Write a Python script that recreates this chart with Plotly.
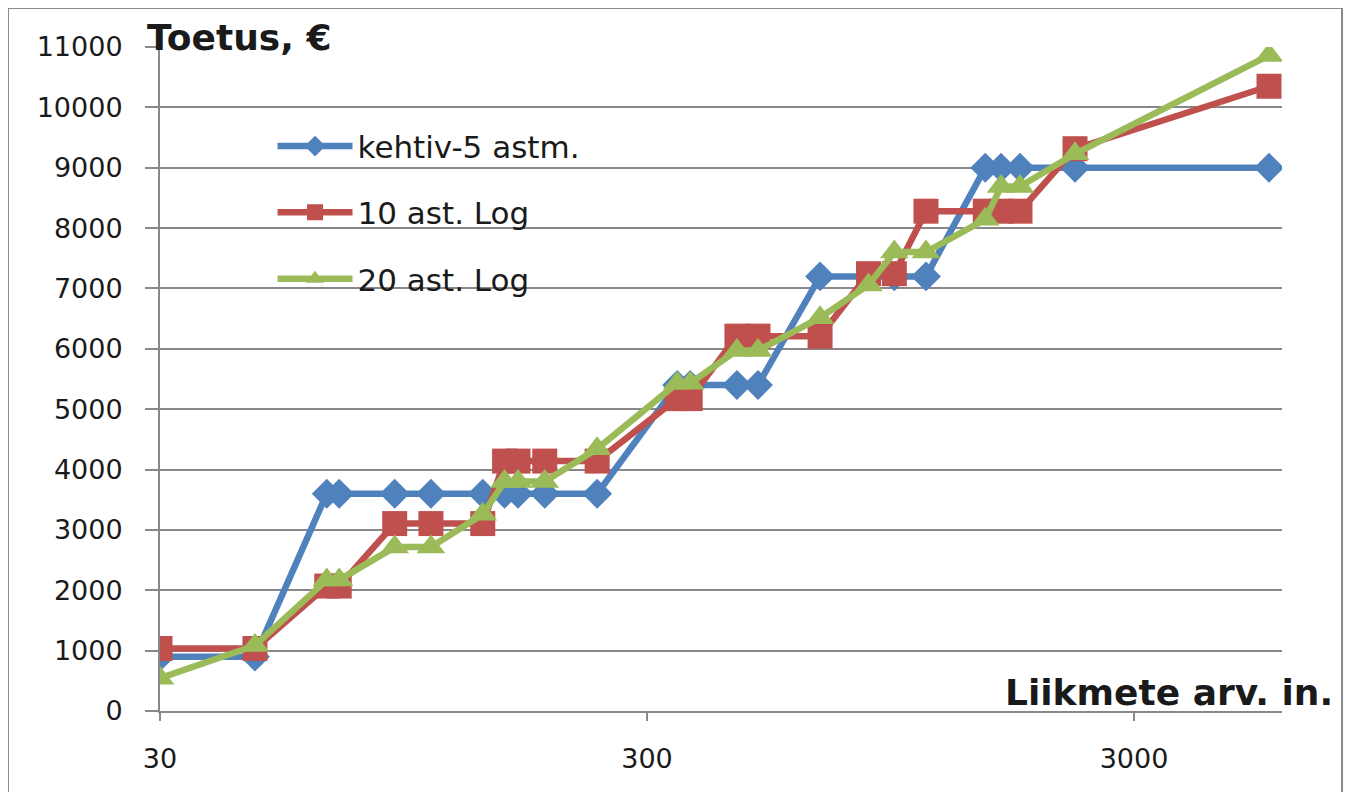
import math

import plotly.graph_objects as go

# ------------------------------------------------------------------
# Data
# ------------------------------------------------------------------

members = [30, 47, 66, 70, 91, 108, 138, 153, 163, 185, 237, 346, 368,
           459, 507, 680, 855, 966, 1122, 1485, 1600, 1750, 2270, 5680]

kehtiv_5 = [900, 900, 3600, 3600, 3600, 3600, 3600, 3600, 3600, 3600, 3600,
            5400, 5400, 5400, 5400, 7200, 7200, 7200, 7200,
            9000, 9000, 9000, 9000, 9000]

log_10 = [1035, 1035, 2070, 2070, 3105, 3105, 3105, 4140, 4140, 4140, 4140,
          5175, 5175, 6210, 6210, 6210, 7245, 7245,
          8280, 8280, 8280, 8280, 9315, 10350]

log_20 = [543, 1086, 2172, 2172, 2715, 2715, 3258, 3801, 3801, 3801, 4344,
          5430, 5430, 5973, 5973, 6516, 7059, 7602, 7602,
          8145, 8688, 8688, 9231, 10860]

x_ticks = [30, 300, 3000]
y_ticks = list(range(0, 11001, 1000))

# ------------------------------------------------------------------
# Theme
# ------------------------------------------------------------------

BLUE = "#4F81BD"
RED = "#C0504D"
GREEN = "#9BBB59"
GRID = "#888888"
TEXT = "#1A1A1A"
FONT = "DejaVu Sans"

series = [
    ("kehtiv-5 astm.", kehtiv_5, BLUE, "diamond", 23),
    ("10 ast. Log", log_10, RED, "square", 25),
    ("20 ast. Log", log_20, GREEN, "triangle-up", 25),
]

fig = go.Figure()

for i, (name, values, color, symbol, size) in enumerate(series):
    fig.add_trace(
        go.Scatter(
            x=members,
            y=values,
            name=name,
            mode="lines+markers",
            legendgroup=f"g{i}",
            line=dict(color=color, width=6.5),
            marker=dict(symbol=symbol, size=size, color=color,
                        line=dict(width=0)),
        )
    )

# page body has an 8px margin, so the figure is sized to fit inside it
fig.update_layout(
    width=1336,
    height=784,
    paper_bgcolor="white",
    plot_bgcolor="white",
    margin=dict(l=152, r=62, t=39, b=81),
    font=dict(family=FONT, size=27, color=TEXT),
    showlegend=True,
    legend=dict(
        x=0.1003,
        y=0.891,
        xanchor="left",
        yanchor="top",
        bgcolor="rgba(0,0,0,0)",
        font=dict(size=31, color=TEXT),
        tracegroupgap=23,
        itemwidth=75,
    ),
)

fig.update_xaxes(
    type="log",
    range=[math.log10(30), math.log10(6040)],
    tickvals=x_ticks,
    ticktext=[str(v) for v in x_ticks],
    showgrid=False,
    showline=True,
    linecolor=GRID,
    linewidth=2,
    ticks="outside",
    ticklen=8,
    tickwidth=2,
    tickcolor=GRID,
    ticklabelstandoff=15,
    zeroline=False,
)

fig.update_yaxes(
    range=[0, 11000],
    tickvals=y_ticks,
    ticktext=[str(v) for v in y_ticks],
    showgrid=True,
    gridcolor=GRID,
    gridwidth=2,
    showline=True,
    linecolor=GRID,
    linewidth=2,
    ticks="outside",
    ticklen=13,
    tickwidth=2,
    tickcolor=GRID,
    ticklabelstandoff=17,
    zeroline=False,
)

fig.add_annotation(
    text="<b>Toetus, €</b>",
    xref="paper", yref="paper",
    x=-0.0134, y=1.014,
    xanchor="left", yanchor="middle",
    showarrow=False,
    font=dict(size=36, color=TEXT),
)

fig.add_annotation(
    text="<b>Liikmete arv. in.</b>",
    xref="paper", yref="paper",
    x=1.0472, y=0.0286,
    xanchor="right", yanchor="middle",
    showarrow=False,
    font=dict(size=36, color=TEXT),
)

# chart frame
fig.add_shape(
    type="rect",
    xref="paper", yref="paper",
    x0=-0.1355, x1=1.0535, y0=-0.2, y1=1.0587,
    line=dict(color="#8A8A8A", width=2),
    layer="below",
)

fig.write_html("out.html")
